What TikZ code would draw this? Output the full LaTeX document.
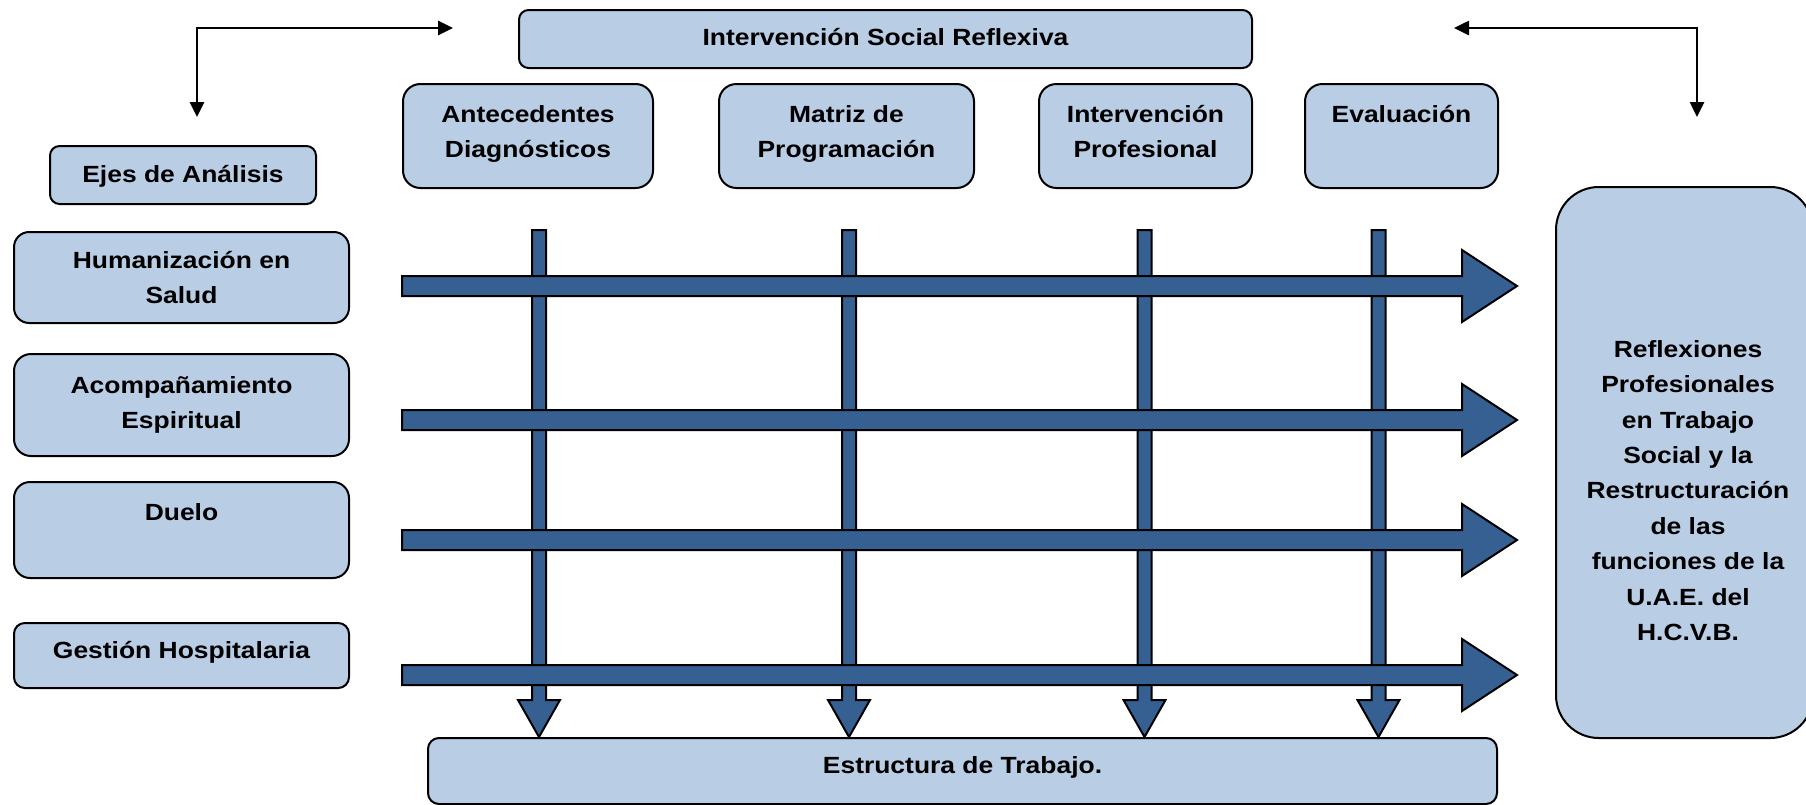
\documentclass[tikz,border=0pt]{standalone}
\usepackage{fontspec}
\setmainfont{Liberation Sans}[FakeStretch=1.13]
\usepackage{xcolor}
\usetikzlibrary{positioning}
\usetikzlibrary{arrows.meta}
\definecolor{cajaAzul}{HTML}{B9CDE5}
\definecolor{flechaAzul}{HTML}{366092}

\begin{document}
\begin{tikzpicture}[x=0.5pt,y=-0.5pt]
	\tikzstyle{Caja}     = [draw, fill=cajaAzul, line width=1pt, anchor=north west, inner sep=0pt]
	\tikzstyle{Texto}    = [anchor=base, align=center, inner sep=0pt, font=\fontsize{11.7}{17.7}\selectfont\bfseries]
	\tikzstyle{Flecha}   = [draw, fill=flechaAzul, line width=1pt, line join=miter]
	\tikzstyle{Conector} = [line width=1.3pt, {Triangle[length=7.5pt,width=7pt]}-{Triangle[length=7.5pt,width=7pt]}]
	\useasboundingbox (0,0) rectangle (1806,804);
	%\draw[help lines] (0,0) grid[step=100] (1806,804);

	% fila superior
	\node[Caja, rounded corners=4.8pt, minimum width=366.5pt, minimum height=29pt] (isr) at (518,9) {};
	\node[Caja, rounded corners=8.7pt, minimum width=125pt, minimum height=52pt] (ante) at (402,83) {};
	\node[Caja, rounded corners=8.7pt, minimum width=127.5pt, minimum height=52pt] (matriz) at (718,83) {};
	\node[Caja, rounded corners=8.7pt, minimum width=106.5pt, minimum height=52pt] (intprof) at (1038,83) {};
	\node[Caja, rounded corners=8.7pt, minimum width=96.5pt, minimum height=52pt] (evalua) at (1304,83) {};

	% ejes de analisis
	\node[Caja, rounded corners=4.8pt, minimum width=133pt, minimum height=29pt] (ejes) at (49,145) {};
	\node[Caja, rounded corners=7.6pt, minimum width=167.5pt, minimum height=45.5pt] (human) at (13,231) {};
	\node[Caja, rounded corners=8.5pt, minimum width=167.5pt, minimum height=51pt] (acomp) at (13,353) {};
	\node[Caja, rounded corners=8pt, minimum width=167.5pt, minimum height=48pt] (duelo) at (13,481) {};
	\node[Caja, rounded corners=5.4pt, minimum width=167.5pt, minimum height=32.5pt] (gestion) at (13,622) {};

	\node[Caja, rounded corners=21.4pt, minimum width=128.5pt, minimum height=275.5pt] (reflex) at (1555,186) {};
	\node[Caja, rounded corners=5.5pt, minimum width=534.5pt, minimum height=33pt] (estruc) at (427,737) {};

	% flechas verticales
	\draw[Flecha] (532,230) -- (546,230) -- (546,700) -- (560,700) -- (539,737) -- (518,700) -- (532,700) -- cycle;
	\draw[Flecha] (842,230) -- (856,230) -- (856,700) -- (870,700) -- (849,737) -- (828,700) -- (842,700) -- cycle;
	\draw[Flecha] (1137.5,230) -- (1151.5,230) -- (1151.5,700) -- (1165.5,700) -- (1144.5,737) -- (1123.5,700) -- (1137.5,700) -- cycle;
	\draw[Flecha] (1371.5,230) -- (1385.5,230) -- (1385.5,700) -- (1399.5,700) -- (1378.5,737) -- (1357.5,700) -- (1371.5,700) -- cycle;

	% flechas horizontales
	\draw[Flecha] (402,276) -- (1462,276) -- (1462,250) -- (1517,286) -- (1462,322) -- (1462,296) -- (402,296) -- cycle;
	\draw[Flecha] (402,410) -- (1462,410) -- (1462,384) -- (1517,420) -- (1462,456) -- (1462,430) -- (402,430) -- cycle;
	\draw[Flecha] (402,530) -- (1462,530) -- (1462,504) -- (1517,540) -- (1462,576) -- (1462,550) -- (402,550) -- cycle;
	\draw[Flecha] (402,665) -- (1462,665) -- (1462,639) -- (1517,675) -- (1462,711) -- (1462,685) -- (402,685) -- cycle;

	% textos (base = ultima linea)
	\node[Texto] (isrT) at ([yshift=-18pt]isr.north) {Intervención Social Reflexiva};
	\node[Texto] (anteT) at ([yshift=-37.2pt]ante.north) {Antecedentes\\Diagnósticos};
	\node[Texto] (matrizT) at ([yshift=-37.2pt]matriz.north) {Matriz de\\Programación};
	\node[Texto] (intprofT) at ([yshift=-37.2pt]intprof.north) {Intervención\\Profesional};
	\node[Texto] (evaluaT) at ([yshift=-19.5pt]evalua.north) {Evaluación};
	\node[Texto] (ejesT) at ([yshift=-18.5pt]ejes.north) {Ejes de Análisis};
	\node[Texto] (humanT) at ([yshift=-36.2pt]human.north) {Humanización en\\Salud};
	\node[Texto] (acompT) at ([yshift=-37.7pt]acomp.north) {Acompañamiento\\Espiritual};
	\node[Texto] (dueloT) at ([yshift=-19.5pt]duelo.north) {Duelo};
	\node[Texto] (gestionT) at ([yshift=-18pt]gestion.north) {Gestión Hospitalaria};
	\node[Texto] (estrucT) at ([yshift=-18pt]estruc.north) {Estructura de Trabajo.};
	\node[Texto] (reflexT) at (1688,640.4) {Reflexiones\\Profesionales\\en Trabajo\\Social y la\\Restructuración\\de las\\funciones de la\\U.A.E. del\\H.C.V.B.};

	% conectores superiores
	\coordinate (ci1) at (453,28);
	\coordinate (ci2) at (197,117);
	\coordinate (cd1) at (1454,28);
	\coordinate (cd2) at (1697,117);
	\draw[Conector] (ci1) -| (ci2);
	\draw[Conector] (cd1) -| (cd2);
\end{tikzpicture}
\end{document}
